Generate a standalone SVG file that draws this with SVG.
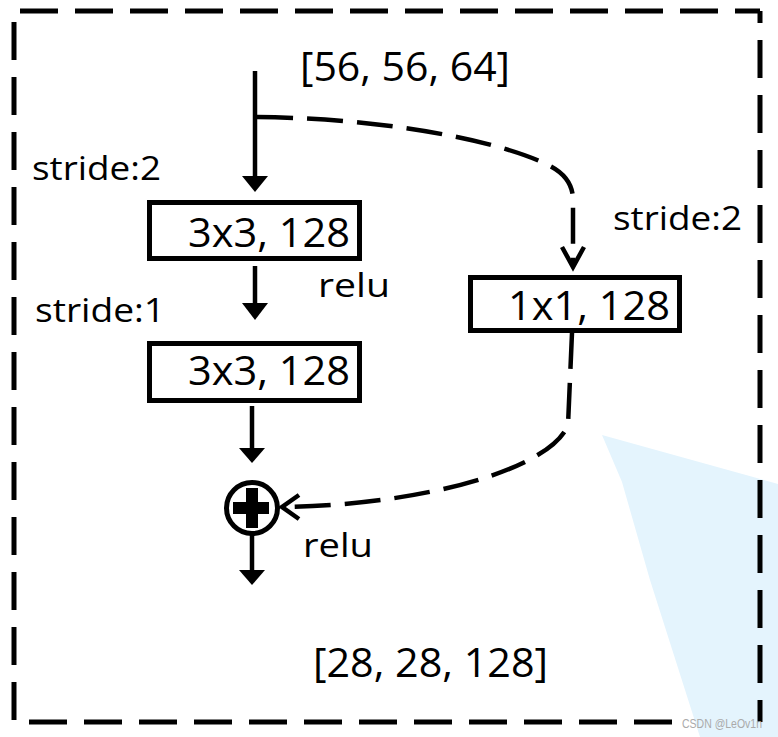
<svg xmlns="http://www.w3.org/2000/svg" width="778" height="737" viewBox="0 0 778 737">
<style>
.t{font-family:"Open Sans","Liberation Sans",sans-serif;fill:#000}
.big{font-size:41px}
.sm{font-size:33px}
.box{fill:#fff;stroke:#000;stroke-width:5}
.ln{stroke:#000;stroke-width:4.5;fill:none}
.dash{stroke:#000;stroke-width:4.5;fill:none;stroke-dasharray:36 14}
.border{stroke:#000;stroke-width:5;fill:none;stroke-dasharray:38 17}
</style>
<rect width="778" height="737" fill="#fff"/>
<polygon points="602,435 778,484 778,737 700,737 650,580 622,482" fill="#e4f4fd"/>
<g id="frame">
<path class="border" d="M20 11 H760"/>
<path class="border" d="M760 11 V722" stroke-dashoffset="26"/>
<path class="border" d="M14 22 V722"/>
<path class="border" d="M29 722 H680"/>
</g>
<g id="connectors">
<line class="ln" x1="255" y1="71" x2="255" y2="178"/>
<polygon points="242,176 268,176 255,192"/>
<line class="ln" x1="255" y1="266" x2="255" y2="305"/>
<polygon points="242,303 268,303 255,320"/>
<line class="ln" x1="252" y1="406" x2="252" y2="450"/>
<polygon points="239,448 265,448 252,463"/>
<line class="ln" x1="252" y1="533" x2="252" y2="572"/>
<polygon points="239,570 265,570 252,585"/>
<path class="dash" d="M257 117 C380 118, 500 140, 550 166 Q573 178, 573 200 L573 265"/>
<polyline class="ln" points="562,247 573,267 584,247" stroke-width="4"/>
<path class="dash" d="M572 333 L568 425 C550 470, 420 505, 285 507"/>
<polyline class="ln" points="299,495 282,507 299,519" stroke-width="4"/>
</g>
<g id="input-label"><text class="t big" x="300" y="81" textLength="210" lengthAdjust="spacingAndGlyphs">[56, 56, 64]</text></g>
<g id="stride2-left"><text class="t sm" x="32" y="180" textLength="129" lengthAdjust="spacingAndGlyphs">stride:2</text></g>
<g id="conv1">
<rect class="box" x="149.5" y="202.5" width="210" height="56"/>
<text class="t big" x="188" y="247" textLength="162" lengthAdjust="spacingAndGlyphs">3x3, 128</text>
</g>
<g id="relu1"><text class="t sm" x="318" y="297" textLength="72" lengthAdjust="spacingAndGlyphs">relu</text></g>
<g id="stride1"><text class="t sm" x="35" y="322" textLength="130" lengthAdjust="spacingAndGlyphs">stride:1</text></g>
<g id="conv2">
<rect class="box" x="149.5" y="343.5" width="210" height="57"/>
<text class="t big" x="188" y="385" textLength="162" lengthAdjust="spacingAndGlyphs">3x3, 128</text>
</g>
<g id="stride2-right"><text class="t sm" x="613" y="230" textLength="129" lengthAdjust="spacingAndGlyphs">stride:2</text></g>
<g id="conv-shortcut">
<rect class="box" x="470.5" y="277.5" width="209" height="53"/>
<text class="t big" x="508" y="320" textLength="162" lengthAdjust="spacingAndGlyphs">1x1, 128</text>
</g>
<g id="add">
<circle cx="252" cy="508" r="25.5" fill="#fff" stroke="#000" stroke-width="5"/>
<rect x="233" y="502" width="36" height="12"/>
<rect x="246" y="488" width="12" height="40"/>
</g>
<g id="relu2"><text class="t sm" x="303" y="557" textLength="70" lengthAdjust="spacingAndGlyphs">relu</text></g>
<g id="output-label"><text class="t big" x="313" y="677" textLength="235" lengthAdjust="spacingAndGlyphs">[28, 28, 128]</text></g>
<g id="watermark"><text x="682" y="728" font-family="Liberation Sans, sans-serif" font-size="12" fill="#aaa" textLength="80" lengthAdjust="spacingAndGlyphs">CSDN @LeOv1n</text></g>
</svg>
